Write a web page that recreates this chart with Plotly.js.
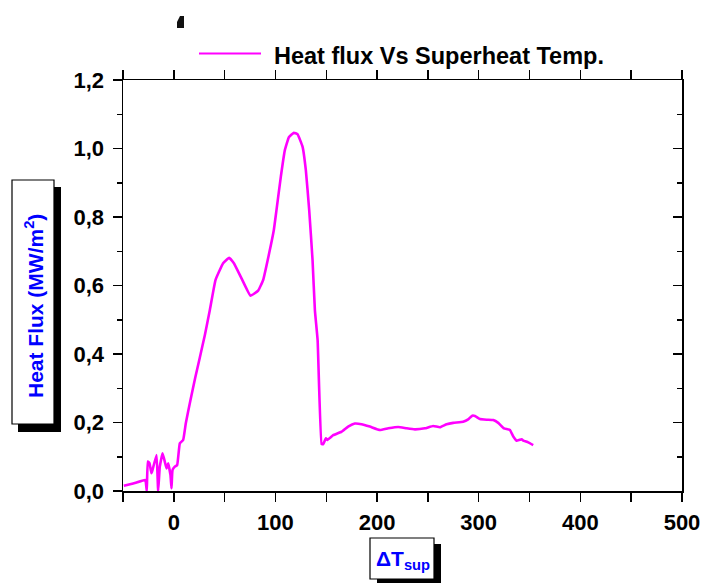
<!DOCTYPE html>
<html>
<head>
<meta charset="utf-8">
<script src="https://cdn.plot.ly/plotly-3.0.1.min.js"></script>
<style>html,body{margin:0;padding:0;background:#fff;}#chart{width:704px;height:583px;}</style>
</head>
<body>
<div id="chart"></div>
<script>
// Data
const superheatTemp = [-49.2, -40, -28.5, -27.6, -26.6, -25.6, -23.9, -22, -21, -17, -15.4, -13.8, -11.1, -8.9, -7.2, -5.6, -3.3, -2.3, -1.3, 1, 3.3, 5.9, 9.2, 11.8, 16.4, 21, 25.6, 30.5, 35.4, 41, 48.5, 54.4, 59.1, 66.6, 75.5, 83, 87.9, 93.8, 98.4, 101, 105.3, 109.3, 113.2, 118.1, 121.7, 126.7, 129.9, 133.2, 136.5, 138.8, 141.5, 145.4, 147, 149.6, 150.9, 156.8, 165, 171.5, 178.1, 184.7, 192.9, 202.8, 211, 220.8, 229.1, 237.2, 247, 255.2, 261.8, 268.4, 274.9, 284.7, 289.6, 293.6, 296.3, 301.2, 307.8, 314.3, 319.2, 324.8, 330.7, 334, 337.3, 339.9, 342.2, 343.8, 348.7, 353.6];
const heatFlux = [0.015, 0.022, 0.032, 0.027, 0.0, 0.086, 0.081, 0.052, 0.061, 0.105, 0.0, 0.071, 0.110, 0.086, 0.066, 0.081, 0.047, 0.008, 0.061, 0.071, 0.076, 0.139, 0.149, 0.198, 0.266, 0.33, 0.39, 0.455, 0.528, 0.616, 0.665, 0.681, 0.665, 0.621, 0.570, 0.585, 0.616, 0.694, 0.762, 0.820, 0.918, 0.996, 1.033, 1.046, 1.042, 1.005, 0.937, 0.820, 0.674, 0.528, 0.44, 0.137, 0.137, 0.154, 0.149, 0.163, 0.173, 0.188, 0.197, 0.195, 0.188, 0.178, 0.183, 0.187, 0.183, 0.180, 0.183, 0.190, 0.186, 0.195, 0.199, 0.202, 0.209, 0.220, 0.219, 0.210, 0.208, 0.207, 0.199, 0.183, 0.178, 0.159, 0.147, 0.149, 0.151, 0.147, 0.142, 0.134];
const seriesName = 'Heat flux Vs Superheat Temp.';
const xTitle = '&#916;T<sub>sup</sub>';
const yTitle = 'Heat Flux (MW/m<sup>2</sup>)';
const xRange = [-50, 500];
const yRange = [0, 1.2];

// pixel -> paper helpers (plot area 123..682 x 80..491)
const L = 123, R = 682, T = 80, B = 491;
const X = px => (px - L) / (R - L);
const Y = py => (B - py) / (B - T);

const FONT = 'Liberation Sans, Arial, Helvetica, sans-serif';

const traces = [
  {
    x: superheatTemp, y: heatFlux, type: 'scatter', mode: 'lines', name: seriesName,
    line: {color: '#FF00FF', width: 2.6, shape: 'spline', smoothing: 0.3},
    showlegend: false
  },
  {x: [], y: [], yaxis: 'y2', type: 'scatter', mode: 'lines', showlegend: false, hoverinfo: 'skip'}
];

const tickFont = {family: FONT, size: 22, color: '#000', weight: 'bold'};

const layout = {
  width: 704, height: 583,
  margin: {l: L, r: 704 - R, t: T, b: 583 - B},
  paper_bgcolor: '#fff', plot_bgcolor: '#fff',
  separators: ',.',
  showlegend: false,
  xaxis: {
    range: xRange, tick0: 0, dtick: 100, tickformat: 'd',
    ticks: 'outside', ticklen: 9, tickwidth: 1.5, tickcolor: '#000',
    minor: {dtick: 50, tick0: 0, ticks: 'outside', ticklen: 5, tickwidth: 1.5, tickcolor: '#000'},
    showline: true, linecolor: '#000', linewidth: 1.5, mirror: 'allticks',
    showgrid: false, zeroline: false, tickfont: tickFont, ticklabelstandoff: 2
  },
  yaxis: {
    range: yRange, tick0: 0, dtick: 0.2, tickformat: '.1f',
    ticks: 'outside', ticklen: 9, tickwidth: 1.5, tickcolor: '#000',
    minor: {dtick: 0.1, tick0: 0, ticks: 'outside', ticklen: 5, tickwidth: 1.5, tickcolor: '#000'},
    showline: true, linecolor: '#000', linewidth: 1.5, mirror: true,
    showgrid: false, zeroline: false, tickfont: tickFont, ticklabelstandoff: 4
  },
  yaxis2: {
    overlaying: 'y', side: 'right', range: yRange, tick0: 0, dtick: 0.2,
    ticks: 'inside', ticklen: 9, tickwidth: 1.5, tickcolor: '#000',
    minor: {dtick: 0.1, tick0: 0, ticks: 'inside', ticklen: 5, tickwidth: 1.5, tickcolor: '#000'},
    showticklabels: false, showline: false, showgrid: false, zeroline: false
  },
  shapes: [
    // y title box shadow and box
    {type: 'rect', xref: 'paper', yref: 'paper', x0: X(18), x1: X(61), y0: Y(432), y1: Y(187), fillcolor: '#000', line: {width: 0}},
    {type: 'rect', xref: 'paper', yref: 'paper', x0: X(12), x1: X(54), y0: Y(424), y1: Y(180), fillcolor: '#fff', line: {color: '#000', width: 1.2}},
    // x title box shadow and box
    {type: 'rect', xref: 'paper', yref: 'paper', x0: X(377), x1: X(441), y0: Y(586), y1: Y(544), fillcolor: '#000', line: {width: 0}},
    {type: 'rect', xref: 'paper', yref: 'paper', x0: X(370), x1: X(434), y0: Y(579), y1: Y(538), fillcolor: '#fff', line: {color: '#000', width: 1.2}},
    // legend sample line
    {type: 'line', xref: 'paper', yref: 'paper', x0: X(199), x1: X(261), y0: Y(53.5), y1: Y(53.5), line: {color: '#FF00FF', width: 2}},
    // small black mark
    {type: 'path', xref: 'paper', yref: 'paper',
     path: 'M ' + X(177) + ' ' + Y(28) + ' L ' + X(184) + ' ' + Y(28) + ' L ' + X(184) + ' ' + Y(16) + ' L ' + X(180) + ' ' + Y(16) + ' L ' + X(177) + ' ' + Y(22) + ' Z',
     fillcolor: '#111', line: {width: 0}}
  ],
  annotations: [
    {xref: 'paper', yref: 'paper', x: X(34), y: Y(306), text: yTitle, showarrow: false, textangle: -90,
     xanchor: 'center', yanchor: 'middle', font: {family: FONT, size: 21, color: '#0000FF', weight: 'bold'}},
    {xref: 'paper', yref: 'paper', x: X(403), y: Y(560), text: xTitle, showarrow: false,
     xanchor: 'center', yanchor: 'middle', font: {family: FONT, size: 21, color: '#0000FF', weight: 'bold'}},
    {xref: 'paper', yref: 'paper', x: X(272), y: Y(56), text: seriesName, showarrow: false,
     xanchor: 'left', yanchor: 'middle', font: {family: FONT, size: 23.5, color: '#000', weight: 'bold'}}
  ]
};

Plotly.newPlot('chart', traces, layout, {displayModeBar: false, staticPlot: true});
</script>
</body>
</html>
